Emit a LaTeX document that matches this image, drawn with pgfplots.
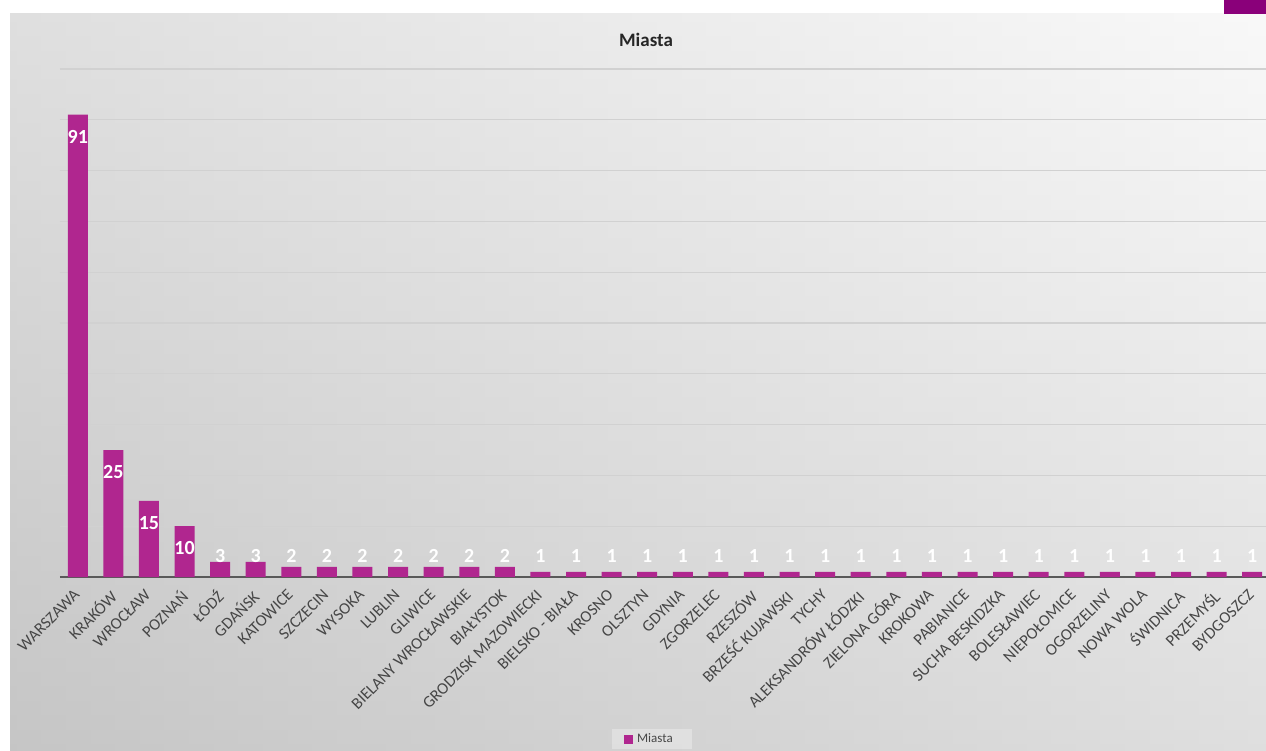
\documentclass[border=0pt]{standalone}
\usepackage{pgfplots}
\pgfplotsset{compat=1.18}
\usepackage{pgfplotstable}
\usepackage{fontspec}
\setmainfont{Carlito}
\definecolor{barcol}{RGB}{176,38,143}
\definecolor{topcol}{RGB}{138,0,122}
\definecolor{lblcol}{RGB}{70,70,70}
\pgfplotstableread{
x v
0 91
1 25
2 15
3 10
4 3
5 3
6 2
7 2
8 2
9 2
10 2
11 2
12 2
13 1
14 1
15 1
16 1
17 1
18 1
19 1
20 1
21 1
22 1
23 1
24 1
25 1
26 1
27 1
28 1
29 1
30 1
31 1
32 1
33 1
}\datatable
\begin{document}
\begin{tikzpicture}
\path[use as bounding box] (0pt,0pt) rectangle (633pt,375.5pt);
\fill[white] (0pt,0pt) rectangle (633pt,375.5pt);
\shade[left color=black!25, right color=black!5] (5pt,0pt) rectangle (633pt,368.5pt);
\shade[top color=white, bottom color=black!20, opacity=0.5] (5pt,0pt) rectangle (633pt,368.5pt);
\fill[topcol] (612pt,368.5pt) rectangle (633pt,375.5pt);
\fill[white, opacity=0.3] (306pt,1pt) rectangle (346pt,11pt);
\begin{axis}[
  at={(30pt,87pt)}, anchor=south west,
  scale only axis,
  width=605pt, height=254pt,
  xmin=-0.5, xmax=33.5, ymin=0, ymax=100,
  axis x line*=bottom, axis y line*=left,
  x axis line style={draw=black!65, line width=0.7pt, -},
  y axis line style={draw=none},
  ytick={0,10,...,100}, yticklabels={},
  ymajorgrids, grid style={draw=black!18, line width=0.6pt},
  xtick={0,...,33},
  major tick length=0pt,
  xticklabels={WARSZAWA,KRAKÓW,WROCŁAW,POZNAŃ,ŁÓDŹ,GDAŃSK,KATOWICE,SZCZECIN,WYSOKA,LUBLIN,GLIWICE,BIELANY WROCŁAWSKIE,BIAŁYSTOK,GRODZISK MAZOWIECKI,BIELSKO - BIAŁA,KROSNO,OLSZTYN,GDYNIA,ZGORZELEC,RZESZÓW,BRZEŚĆ KUJAWSKI,TYCHY,ALEKSANDRÓW ŁÓDZKI,ZIELONA GÓRA,KROKOWA,PABIANICE,SUCHA BESKIDZKA,BOLESŁAWIEC,NIEPOŁOMICE,OGORZELINY,NOWA WOLA,ŚWIDNICA,PRZEMYŚL,BYDGOSZCZ},
  xticklabel style={xshift=-2.5pt, yshift=-5.5pt, rotate=45, anchor=north east, inner sep=0pt, font=\fontsize{8.2pt}{9pt}\selectfont, text=lblcol},
  legend style={at={(0.488,-0.32)}, anchor=center, draw=none, fill=none, font=\fontsize{6.5pt}{7pt}\selectfont, text=lblcol, inner sep=2pt},
  legend image code/.code={\fill[barcol] (0pt,-2.2pt) rectangle (4.4pt,2.2pt);},
  clip=false,
  /pgf/number format/assume math mode=true,
]
\addplot[ybar, bar width=10pt, fill=barcol, draw=none] table[x=x, y=v] {\datatable};
\addlegendentry{Miasta}
\addplot[draw=none, mark=none, forget plot, nodes near coords, point meta=explicit,
  every node near coord/.style={anchor=center, text=white, font=\fontsize{10pt}{11pt}\bfseries\selectfont, inner sep=0pt}]
  table[x=x, y expr={max(\thisrow{v}-4.3,4.1)}, meta=v] {\datatable};
\end{axis}
\node[font=\fontsize{9.5pt}{11pt}\bfseries\selectfont, text=black!85] at (323pt,355.5pt) {Miasta};
\end{tikzpicture}
\end{document}
